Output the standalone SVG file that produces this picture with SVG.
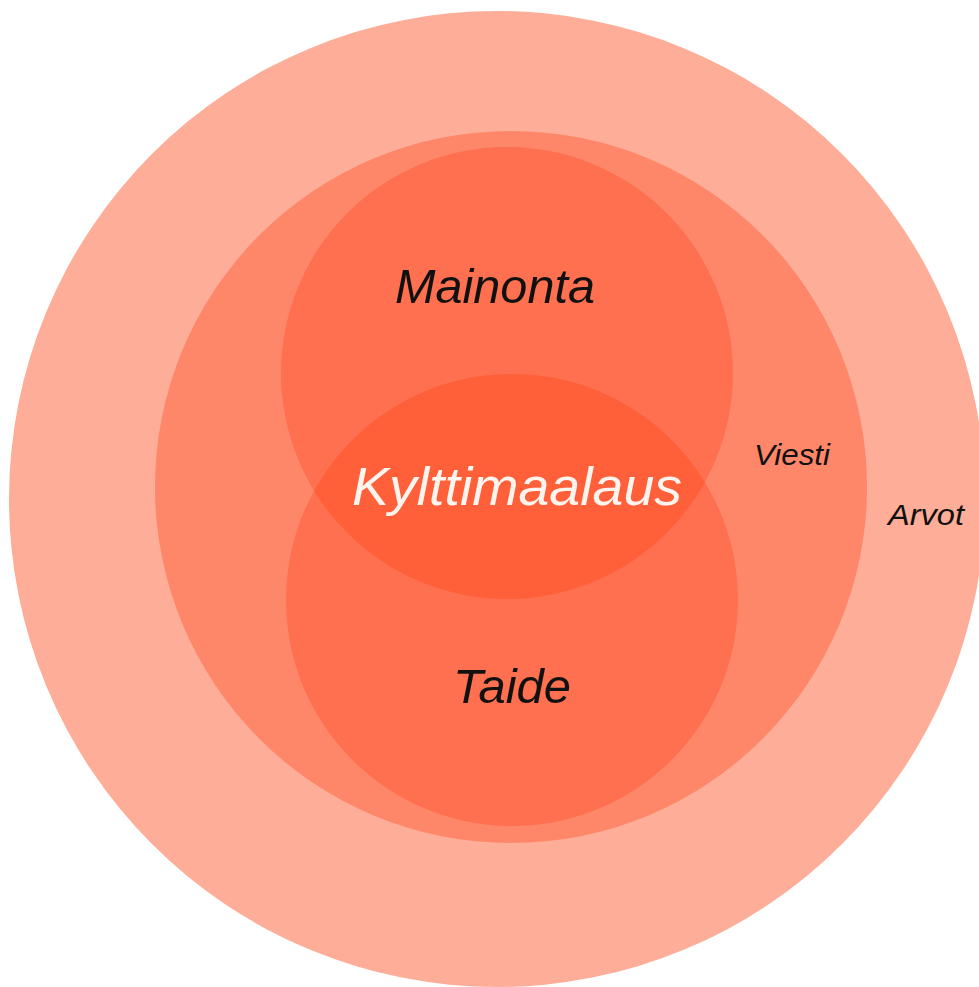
<svg xmlns="http://www.w3.org/2000/svg" width="979" height="987" viewBox="0 0 979 987">
<style>
.lbl{font-family:"Liberation Sans","DejaVu Sans",sans-serif;font-style:italic;fill:#111;}
</style>
<rect width="979" height="987" fill="#ffffff"/>
<g id="arvot">
<circle cx="497" cy="499" r="488" fill="#FDAD98"/>
<text class="lbl" x="888" y="525" font-size="30" textLength="76" lengthAdjust="spacingAndGlyphs">Arvot</text>
</g>
<g id="viesti">
<circle cx="511" cy="487" r="356" fill="#FE876A"/>
<text class="lbl" x="754" y="465" font-size="30" textLength="76" lengthAdjust="spacingAndGlyphs">Viesti</text>
</g>
<g id="mainonta">
<circle cx="507" cy="373" r="226" fill="#FE7050"/>
<text class="lbl" x="395" y="303" font-size="48" textLength="200" lengthAdjust="spacingAndGlyphs">Mainonta</text>
</g>
<g id="taide">
<circle cx="512" cy="600" r="226" fill="#FE7050"/>
<text class="lbl" x="453" y="703" font-size="48" textLength="118" lengthAdjust="spacingAndGlyphs">Taide</text>
</g>
<g id="kylttimaalaus">
<clipPath id="topc"><circle cx="507" cy="373" r="226"/></clipPath>
<circle cx="512" cy="600" r="226" fill="#FF603A" clip-path="url(#topc)"/>
<text x="352" y="505" font-size="54" textLength="330" lengthAdjust="spacingAndGlyphs" font-family="Liberation Sans, DejaVu Sans, sans-serif" font-style="italic" fill="#FFF4EE">Kylttimaalaus</text>
</g>
<g id="connectors"></g>
</svg>
